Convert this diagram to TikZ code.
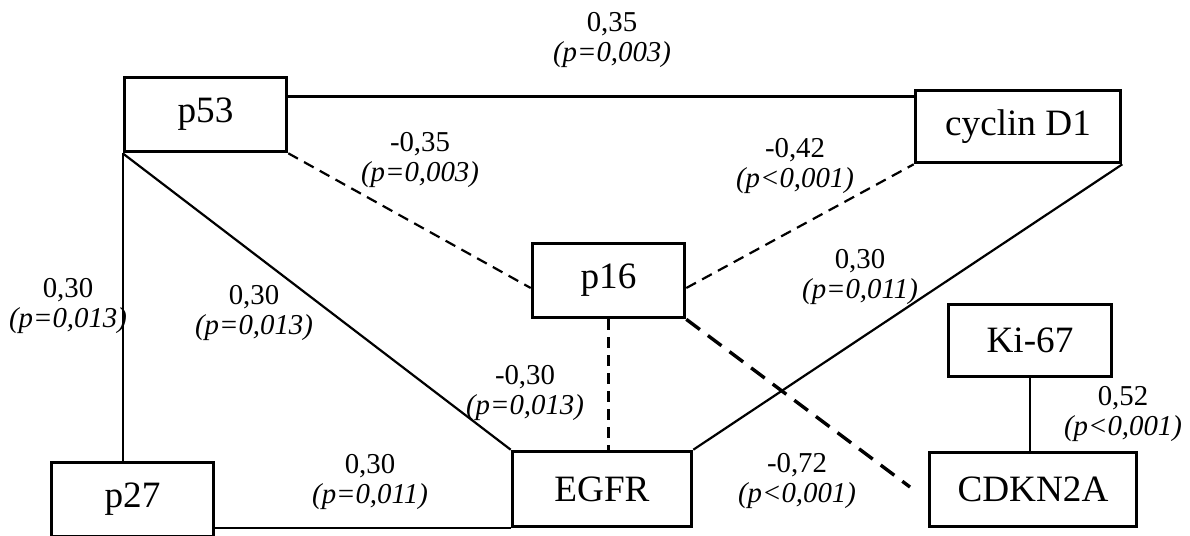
\documentclass[tikz,border=0pt]{standalone}
\usepackage{fontspec}
\setmainfont{Liberation Serif}
\begin{document}
\begin{tikzpicture}[x=0.5pt,y=-0.5pt,
  box/.style={draw, line width=1.8pt, inner sep=0pt, font=\fontsize{18.6}{22}\selectfont},
  conn/.style={line width=1.1pt},
  dsh/.style={line width=1.1pt, dash pattern=on 5.5pt off 3.5pt},
  tdsh/.style={line width=1.7pt, dash pattern=on 8.5pt off 5pt},
  lab/.style={align=center, font=\fontsize{14.4}{15}\selectfont, inner sep=0pt}]
\useasboundingbox (0,0) rectangle (1190,536);

% boxes
\node[box, minimum width=81pt, minimum height=37pt] (p53) at (205.5,114.5) {p53};
\node[box, minimum width=102.5pt, minimum height=36pt] (cyc) at (1018,126.5) {cyclin D1};
\node[box, minimum width=76pt, minimum height=37pt] (p16) at (608.5,280.5) {p16};
\node[box, minimum width=81.5pt, minimum height=36pt] (ki) at (1030,340.5) {Ki-67};
\node[box, minimum width=81pt, minimum height=37pt] (p27) at (132.5,499.5) {p27};
\node[box, minimum width=89.5pt, minimum height=37.5pt] (egfr) at (602,489) {EGFR};
\node[box, minimum width=103.5pt, minimum height=37pt] (cdk) at (1033,489.5) {CDKN2A};
\coordinate (cdkEnd) at (910,487);

% connectors
\draw[conn] ([yshift=9pt]p53.east) -- ([yshift=9pt]p53.east -| cyc.west);
\draw[dsh] (p53.south east) -- ([yshift=-3.75pt]p16.west);
\draw[dsh] ([yshift=-3.75pt]p16.east) -- (cyc.south west);
\draw[conn] (p53.south west) -- (p53.south west |- p27.north);
\draw[conn] (p53.south west) -- (egfr.north west);
\draw[conn] (cyc.south east) -- (egfr.north east);
\draw[dsh] (p16.south) -- (p16.south |- egfr.north);
\draw[conn] (egfr.south west) -- (egfr.south west -| p27.east);
\draw[tdsh] (p16.south east) -- (cdkEnd);
\draw[conn] (ki.south) -- (ki.south |- cdk.north);

% labels
\node[lab] (l1) at (612,40) {0,35\\\textit{(p=0,003)}};
\node[lab] (l2) at (420,160) {-0,35\\\textit{(p=0,003)}};
\node[lab] (l3) at (795,166) {-0,42\\\textit{(p<0,001)}};
\node[lab] (l4) at (860,277) {0,30\\\textit{(p=0,011)}};
\node[lab] (l5) at (68,306) {0,30\\\textit{(p=0,013)}};
\node[lab] (l6) at (254,313) {0,30\\\textit{(p=0,013)}};
\node[lab] (l7) at (525,393) {-0,30\\\textit{(p=0,013)}};
\node[lab] (l8) at (370,482) {0,30\\\textit{(p=0,011)}};
\node[lab] (l9) at (797,481) {-0,72\\\textit{(p<0,001)}};
\node[lab] (l10) at (1123,414) {0,52\\\textit{(p<0,001)}};
\end{tikzpicture}
\end{document}
